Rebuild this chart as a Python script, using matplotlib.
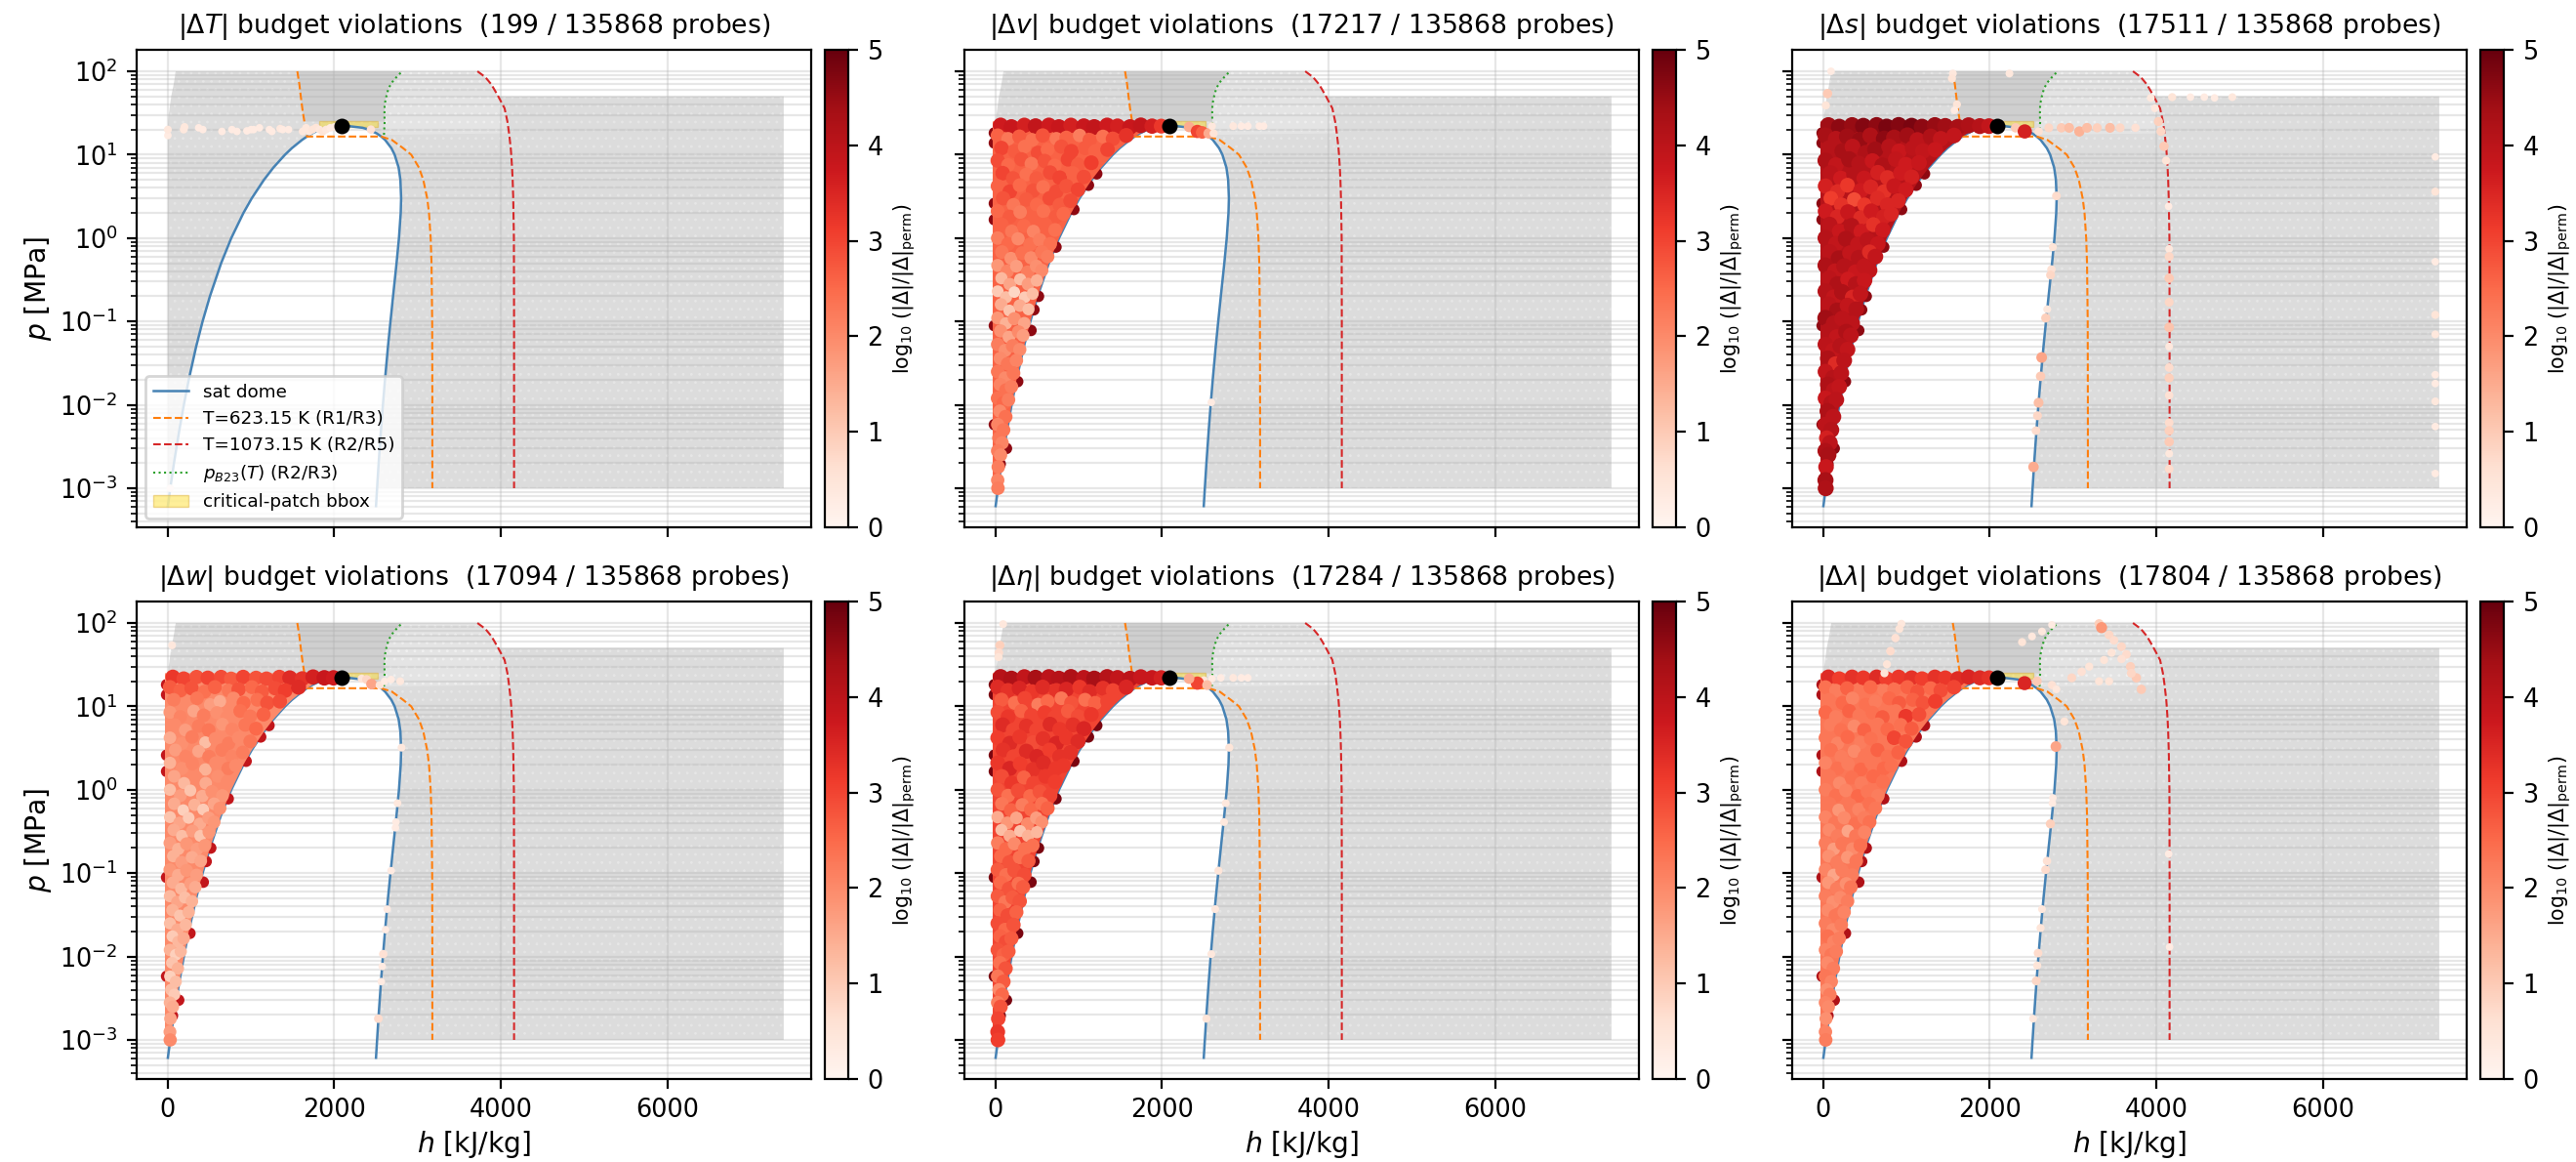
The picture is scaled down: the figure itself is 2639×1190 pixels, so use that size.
import numpy as np
import matplotlib
matplotlib.use("Agg")
import matplotlib.pyplot as plt
from matplotlib import ticker
from matplotlib.colors import Normalize
from matplotlib.cm import ScalarMappable

# saturation dome, p in MPa, h in kJ/kg
sat_p = [0.000611, 0.001, 0.002, 0.005, 0.01, 0.02, 0.05, 0.1, 0.2, 0.5, 1, 2, 3, 5, 7, 10, 12, 15, 16.5, 18, 20, 21, 22, 22.064]
sat_hl = [0, 29, 73, 138, 192, 251, 340, 417, 505, 640, 762, 908, 1008, 1155, 1268, 1408, 1491, 1611, 1671, 1732, 1827, 1890, 2011, 2087]
sat_hv = [2501, 2514, 2533, 2561, 2584, 2609, 2645, 2675, 2706, 2748, 2777, 2798, 2803, 2794, 2773, 2725, 2685, 2611, 2564, 2510, 2411, 2341, 2173, 2087]

t623_p = [100, 70, 50, 35, 25, 20, 16.5, 16.5, 15, 12, 10, 7, 5, 3, 2, 1, 0.5, 0.1, 0.01, 0.001]
t623_h = [1555, 1580, 1597, 1617, 1640, 1660, 1671, 2564, 2693, 2825, 2924, 3017, 3069, 3116, 3138, 3158, 3168, 3176, 3178, 3178]

t1073_p = [100, 85, 70, 60, 50, 36, 25, 18, 12, 10, 7, 5, 3, 1, 0.1, 0.01, 0.001]
t1073_h = [3720, 3815, 3885, 3925, 3970, 4046, 4080, 4100, 4120, 4126, 4136, 4143, 4150, 4158, 4160, 4160, 4160]

b23_p = [17.3, 20, 25, 30, 40, 50, 63, 75, 88, 100]
b23_h = [2597, 2600, 2605, 2602, 2605, 2625, 2653, 2700, 2760, 2817]

crit_h, crit_p = 2087.5, 22.064
patch_h = [1820, 2520]
patch_p = [21.5, 25.2]

# probe domain outline
field_left_p = [22.064, 30, 50, 70, 100]
field_left_h = [0, 10, 40, 70, 95]
field_right_p = [100, 50, 50, 0.001]
field_right_h = [3720, 3970, 7400, 7400]

# violation points in the liquid wedge, one row per pressure level
wedge_h = [
    [60, 190, 345, 480, 640, 760, 905, 1060, 1185, 1340, 1465, 1615, 1745, 1880, 1990],
    [25, 150, 285, 440, 565, 730, 850, 1010, 1130, 1290, 1410, 1570],
    [70, 230, 350, 510, 625, 790, 910, 1075, 1195, 1345],
    [25, 150, 310, 430, 590, 710, 870, 990, 1150],
    [85, 210, 370, 490, 655, 770, 930, 1060],
    [25, 170, 290, 450, 570, 730, 850, 990],
    [90, 215, 370, 495, 650, 770, 900],
    [25, 170, 295, 450, 575, 725, 815],
    [75, 195, 340, 455, 600, 715],
    [25, 150, 270, 415, 530, 655],
    [75, 185, 320, 425, 555, 625],
    [25, 140, 250, 385, 490, 555],
    [70, 170, 295, 390, 495],
    [25, 125, 225, 350, 445],
    [65, 165, 290, 395],
    [25, 125, 225, 345],
    [60, 160, 275, 330],
    [25, 115, 205, 290],
    [55, 145, 250],
    [25, 115, 215],
    [55, 125, 190],
    [25, 95, 155],
    [50, 120],
    [25, 95],
    [40, 78],
    [25, 60],
    [32],
    [25],
    [28],
]
wedge_p = [
    [22.5, 21.5, 22.5, 22, 22.5, 21.5, 22.5, 22, 21.5, 22.5, 22, 21.5, 22.5, 22, 22],
    [17, 15.5, 16.5, 15, 17, 15.5, 16, 17, 15, 16.5, 15.5, 17],
    [12, 11, 12.5, 10.5, 11.5, 12.5, 11, 12, 11, 11.5],
    [8.5, 7.5, 8.8, 7.8, 8.4, 7.4, 8.8, 7.6, 8],
    [6, 5.2, 5.8, 5.2, 6.1, 5.3, 6, 5.4],
    [4.2, 3.6, 4.3, 3.7, 4.1, 3.6, 4.2, 3.8],
    [3, 2.5, 2.9, 2.5, 3, 2.5, 2.8],
    [2.1, 1.8, 2.05, 1.75, 2.1, 1.8, 1.95],
    [1.45, 1.2, 1.4, 1.2, 1.45, 1.25],
    [1, 0.85, 0.98, 0.84, 0.95, 0.85],
    [0.68, 0.57, 0.66, 0.58, 0.68, 0.6],
    [0.47, 0.4, 0.46, 0.39, 0.46, 0.41],
    [0.33, 0.28, 0.32, 0.28, 0.31],
    [0.23, 0.195, 0.225, 0.195, 0.215],
    [0.16, 0.135, 0.155, 0.14],
    [0.11, 0.095, 0.108, 0.095],
    [0.077, 0.065, 0.075, 0.068],
    [0.053, 0.045, 0.051, 0.046],
    [0.036, 0.031, 0.034],
    [0.025, 0.021, 0.024],
    [0.0175, 0.015, 0.0165],
    [0.012, 0.0105, 0.0115],
    [0.0084, 0.0072],
    [0.0058, 0.005],
    [0.004, 0.0035],
    [0.0028, 0.0025],
    [0.0018],
    [0.00125],
    [0.001],
]

wedge_v = [
    [3.7, 3.8, 3.6, 3.9, 3.7, 3.8, 3.6, 3.8, 3.9, 3.7, 3.6, 3.8, 3.9, 3.6, 3.2],
    [2.6, 2.3, 2.7, 2.4, 2.8, 2.3, 2.6, 2.2, 2.7, 2.4, 2.9, 3.3],
    [3.0, 2.7, 2.4, 2.9, 2.5, 2.8, 3.0, 2.7, 2.6, 3.0],
    [2.9, 2.5, 2.8, 2.3, 2.8, 2.5, 3.0, 2.7, 3.1],
    [3.0, 2.8, 2.4, 2.7, 2.9, 3.0, 2.6, 2.9],
    [2.6, 3.0, 2.5, 2.8, 2.4, 2.9, 2.8, 3.0],
    [2.8, 2.3, 2.7, 2.5, 2.9, 2.7, 2.9],
    [2.5, 2.7, 2.2, 2.6, 2.4, 2.7, 2.5],
    [2.6, 2.3, 2.5, 2.1, 2.6, 2.4],
    [2.2, 2.5, 2.0, 2.4, 2.2, 2.4],
    [2.3, 1.9, 2.4, 2.0, 2.3, 2.2],
    [1.8, 2.1, 1.7, 2.2, 1.9, 2.0],
    [1.3, 1.6, 1.2, 1.7, 1.4],
    [1.0, 1.2, 0.8, 1.0, 1.2],
    [1.5, 1.1, 1.5, 1.2],
    [1.8, 1.4, 1.9, 1.6],
    [1.9, 1.6, 2.0, 1.7],
    [2.2, 1.9, 2.2, 2.0],
    [2.0, 2.3, 2.1],
    [2.3, 2.0, 2.3],
    [2.1, 2.4, 2.2],
    [2.4, 2.5, 2.2],
    [2.0, 2.4],
    [2.1, 2.3],
    [2.3, 2.1],
    [2.2, 2.0],
    [2.2],
    [2.1],
    [2.2],
]

wedge_s = [
    [4.4, 4.6, 4.5, 4.7, 4.6, 4.8, 4.7, 4.8, 4.6, 4.5, 4.4, 4.3, 4.2, 4.1, 3.9],
    [4.3, 4.1, 4.4, 4.5, 4.2, 4.6, 4.3, 4.4, 4.0, 4.2, 3.9, 3.9],
    [4.1, 4.3, 4.0, 4.2, 4.4, 4.1, 3.8, 4.0, 3.9, 3.8],
    [4.2, 3.9, 4.3, 4.1, 3.8, 4.2, 3.9, 3.7, 3.8],
    [4.0, 3.7, 4.1, 3.8, 3.6, 3.4, 3.7, 3.6],
    [3.6, 3.4, 3.2, 3.7, 3.5, 3.3, 3.8, 3.7],
    [3.1, 3.3, 2.9, 3.2, 3.4, 3.5, 3.5],
    [3.7, 3.5, 3.8, 3.4, 3.7, 3.6, 3.5],
    [4.0, 3.8, 4.1, 3.7, 3.3, 3.7],
    [4.1, 3.9, 4.2, 3.9, 4.0, 3.8],
    [4.0, 4.3, 3.9, 4.1, 3.4, 3.9],
    [4.2, 3.9, 4.1, 3.8, 3.9, 3.9],
    [4.0, 4.2, 3.7, 4.1, 3.8],
    [4.1, 3.9, 4.2, 3.5, 3.9],
    [4.0, 4.3, 3.9, 4.1],
    [4.4, 4.1, 4.0, 4.0],
    [4.1, 3.9, 4.2, 4.0],
    [4.0, 3.9, 4.1, 3.9],
    [4.2, 3.4, 4.0],
    [3.9, 4.1, 4.0],
    [4.2, 4.0, 3.9],
    [3.8, 4.1, 4.0],
    [4.2, 4.0],
    [4.0, 4.1],
    [3.6, 4.0],
    [4.2, 4.3],
    [3.8],
    [4.3],
    [4.2],
]

wedge_w = [
    [3.2, 3.0, 2.8, 3.0, 2.9, 2.7, 3.0, 2.8, 2.9, 3.0, 3.4, 3.3, 3.6, 3.8, 3.7],
    [2.7, 2.6, 2.8, 2.4, 2.6, 2.3, 2.8, 2.5, 2.7, 2.9, 3.1, 3.4],
    [2.2, 2.0, 2.3, 1.7, 1.5, 2.0, 2.5, 2.4, 2.8, 2.9],
    [1.8, 2.1, 1.6, 2.2, 1.9, 2.0, 2.4, 2.3, 2.6],
    [2.0, 1.7, 2.2, 2.3, 1.8, 2.1, 2.3, 2.5],
    [1.5, 1.9, 2.2, 1.2, 2.0, 2.2, 2.0, 2.3],
    [1.7, 2.1, 1.6, 2.2, 2.2, 2.1, 2.2],
    [1.4, 1.9, 2.1, 1.4, 2.0, 2.2, 2.0],
    [1.6, 1.3, 2.0, 1.5, 1.9, 2.0],
    [1.2, 1.7, 1.1, 1.5, 1.9, 1.8],
    [1.5, 0.9, 1.4, 1.0, 1.6, 1.9],
    [1.1, 1.6, 1.0, 1.5, 1.7, 1.8],
    [1.5, 1.2, 1.7, 1.1, 1.8],
    [1.7, 1.4, 1.8, 1.7, 1.8],
    [1.4, 1.7, 1.5, 1.6],
    [1.8, 1.5, 1.8, 1.7],
    [1.5, 1.3, 1.7, 1.5],
    [1.3, 1.6, 1.2, 1.4],
    [1.4, 1.1, 1.4],
    [1.2, 1.5, 1.3],
    [1.0, 1.3, 1.5],
    [1.4, 0.9, 1.3],
    [1.1, 1.4],
    [0.9, 1.2],
    [1.2, 1.0],
    [1.4, 1.5],
    [1.6],
    [1.7],
    [2.0],
]

wedge_eta = [
    [4.1, 4.2, 3.9, 4.3, 4.0, 4.1, 4.2, 4.0, 4.3, 4.1, 3.9, 4.0, 3.8, 3.8, 3.6],
    [3.4, 3.3, 3.5, 3.2, 3.4, 3.3, 3.5, 3.2, 3.4, 3.3, 3.0, 3.5],
    [2.7, 2.4, 3.0, 2.2, 2.5, 2.3, 2.8, 2.4, 2.6, 3.0],
    [2.9, 3.2, 2.6, 3.0, 3.1, 3.0, 2.7, 2.9, 3.2],
    [3.4, 3.0, 3.3, 3.0, 3.4, 3.2, 3.3, 3.5],
    [3.1, 3.4, 3.2, 2.9, 3.3, 3.5, 3.2, 3.4],
    [3.3, 3.0, 3.4, 3.5, 3.1, 3.3, 3.3],
    [3.2, 3.5, 3.1, 3.3, 3.4, 3.2, 3.2],
    [2.9, 3.2, 2.6, 3.0, 3.2, 3.1],
    [2.8, 2.4, 2.9, 2.5, 2.8, 3.0],
    [2.3, 2.6, 2.2, 2.5, 2.4, 2.6],
    [1.5, 1.8, 1.6, 2.0, 1.7, 1.9],
    [1.2, 1.5, 1.1, 1.4, 1.3],
    [2.2, 2.5, 2.0, 2.4, 2.4],
    [2.5, 2.8, 2.4, 2.7],
    [2.7, 2.4, 2.8, 2.9],
    [2.5, 2.8, 2.4, 2.7],
    [2.7, 2.3, 2.7, 2.8],
    [2.6, 2.9, 2.6],
    [2.9, 2.5, 2.8],
    [2.6, 2.9, 2.7],
    [2.8, 2.6, 2.7],
    [2.4, 2.8],
    [2.3, 2.7],
    [2.0, 2.5],
    [2.2, 2.8],
    [3.0],
    [3.2],
    [3.1],
]

wedge_lam = [
    [3.4, 3.1, 3.3, 3.2, 3.4, 3.1, 3.2, 3.3, 3.1, 3.3, 3.2, 3.4, 3.5, 3.4, 3.3],
    [2.4, 2.2, 2.6, 2.3, 2.5, 2.2, 2.4, 2.6, 2.8, 2.5, 2.9, 3.0],
    [2.3, 2.5, 2.1, 2.4, 2.2, 2.5, 2.7, 2.6, 2.8, 3.1],
    [2.5, 2.2, 2.6, 2.3, 2.4, 2.7, 2.3, 3.2, 2.9],
    [2.2, 2.4, 2.0, 2.6, 2.3, 2.5, 2.4, 2.7],
    [2.3, 2.1, 2.5, 2.2, 2.4, 2.3, 3.0, 2.8],
    [2.4, 2.2, 2.0, 2.3, 2.6, 2.4, 2.6],
    [2.1, 2.4, 2.2, 2.5, 2.3, 2.5, 2.4],
    [2.3, 2.0, 2.4, 2.2, 2.5, 2.4],
    [2.2, 2.4, 2.1, 2.5, 2.3, 2.2],
    [2.3, 1.8, 2.3, 2.1, 2.4, 2.3],
    [2.1, 2.3, 2.0, 2.4, 2.2, 2.4],
    [2.0, 2.2, 1.6, 2.3, 2.1],
    [2.2, 1.7, 2.3, 2.0, 2.4],
    [1.9, 2.2, 1.8, 2.3],
    [2.1, 1.6, 2.2, 2.2],
    [1.8, 2.2, 1.9, 2.3],
    [2.2, 1.9, 2.0, 2.2],
    [2.0, 2.3, 2.1],
    [2.2, 2.0, 2.2],
    [2.4, 2.1, 2.2],
    [2.1, 2.3, 2.2],
    [2.0, 2.2],
    [2.3, 2.1],
    [1.9, 2.2],
    [2.1, 2.0],
    [1.9],
    [2.1],
    [2.2],
]

# dark crescents along the wedge border, shared by the panels
rim_h = [-15, -15, -15, -15, -15, -15, 1215, 1115, 940, 725, 515, 460, 425, 265, 130, 55]
rim_p = [18.2, 13.8, 2.6, 1.66, 0.089, 0.0058, 5.9, 4.3, 2.2, 0.78, 0.2, 0.138, 0.078, 0.019, 0.003, 0.00195]

# scattered violations outside the wedge
extra_T_h = [0, 0, 190, 200, 370, 420, 650, 770, 830, 950, 1000, 1030, 1100, 1220, 1250, 1350, 1380, 1450, 1620, 1660, 1700, 1740, 1780, 1820, 1860, 1900, 1950, 2000, 2440, 28]
extra_T_p = [17, 20, 20, 21.5, 21, 20, 19, 20, 19, 19.3, 20, 20, 21, 20, 19, 20.5, 20, 20, 19, 21, 19, 20, 21, 20, 19, 20, 21, 21.5, 20, 0.001]
extra_T_val = [0.3, 0.4, 0.4, 0.4, 0.3, 0.3, 0.3, 0.3, 0.3, 0.3, 0.3, 0.3, 0.3, 0.3, 0.3, 0.4, 0.3, 0.3, 0.4, 0.4, 0.4, 0.5, 0.5, 0.4, 0.5, 0.4, 0.3, 0.3, 0.6, 0.3]

extra_v_h = [2855, 2953, 3031, 3169, 3220, 2325, 2424, 2482, 2560, 2600, 2620, 2592]
extra_v_p = [22, 22, 22, 22, 22, 21.5, 19, 18.5, 18, 22, 18, 0.0107]
extra_v_val = [0.4, 0.3, 0.3, 0.3, 0.3, 1.5, 3.0, 2.6, 1.5, 0.4, 0.5, 0.3]

extra_s_h = [92, 50, 30, 1556, 1545, 1605, 1575, 2236, 3934, 4191, 4411, 4577, 4700, 4914, 3983, 4026, 4056, 4093, 4118, 4148,
             4155, 4155, 4155, 4155, 4155, 4155, 4155, 4155, 4155, 4155, 4155, 4155, 4155, 4155,
             2800, 2757, 2740, 2730, 2690, 2672, 2623, 2610, 2586, 2573, 2555, 2525,
             7353, 7353, 7353, 7353, 7353, 7353, 7353, 7353, 7353, 7353,
             2310, 2420, 2586, 2708, 2860, 2953, 3076, 3168, 3290, 3444, 3566, 3750]
extra_s_p = [100, 54, 39, 94, 82, 40, 34, 94, 48, 49, 49, 49, 48, 49, 36, 25, 19, 12.6, 8.5, 2.4,
             0.74, 0.6, 0.33, 0.17, 0.085, 0.05, 0.028, 0.021, 0.013, 0.0061, 0.0049, 0.0036, 0.0026, 0.0017,
             3.2, 0.78, 0.42, 0.36, 0.14, 0.11, 0.037, 0.022, 0.0106, 0.0074, 0.0049, 0.0018,
             9.4, 3.6, 0.52, 0.12, 0.07, 0.023, 0.018, 0.011, 0.0055, 0.0015,
             21, 19, 19, 21, 21, 21, 19, 21, 21, 21, 21, 21]
extra_s_val = [0.3, 1.0, 0.5, 0.4, 0.5, 0.5, 0.3, 0.4, 0.4, 0.5, 0.3, 0.3, 0.3, 0.4, 0.4, 0.9, 0.8, 1.0, 0.5, 0.3,
               0.4, 0.8, 1.0, 0.8, 1.1, 0.4, 0.7, 0.9, 0.6, 0.7, 0.9, 1.0, 0.4, 0.7,
               0.7, 0.5, 0.6, 0.8, 0.4, 0.9, 1.6, 1.0, 1.2, 0.8, 0.7, 1.5,
               0.3, 0.5, 0.3, 0.5, 0.4, 0.3, 0.3, 0.4, 0.3, 0.3,
               1.0, 3.6, 0.6, 0.8, 1.0, 1.2, 1.4, 1.2, 0.9, 1.2, 0.8, 0.6]

extra_w_h = [51, 2808, 2760, 2741, 2735, 2682, 2635, 2616, 2588, 2576, 2565, 2529, 2329, 2388, 2447, 2545, 2604, 2682, 2792]
extra_w_p = [54, 3.2, 0.69, 0.41, 0.35, 0.107, 0.037, 0.021, 0.0107, 0.0076, 0.005, 0.0018, 21.5, 21, 18.5, 18, 20, 21, 20]
extra_w_val = [0.4, 0.4, 0.4, 0.3, 0.3, 0.3, 0.3, 0.3, 0.6, 0.3, 0.3, 0.7, 0.5, 0.8, 1.6, 0.5, 0.3, 0.3, 0.4]

extra_eta_h = [90, 51, 39, 35, 2808, 2765, 2745, 2678, 2639, 2592, 2533, 2855, 2953, 3031, 2706, 2600, 2502, 2424, 2325, 2541]
extra_eta_p = [97, 54, 44, 39, 3.2, 0.69, 0.41, 0.107, 0.037, 0.0107, 0.0018, 22, 22, 22, 22, 21.5, 20.5, 19, 21.5, 18]
extra_eta_val = [0.4, 0.9, 0.7, 0.5, 0.5, 0.4, 0.4, 0.5, 0.4, 0.4, 0.5, 0.4, 0.3, 0.3, 0.3, 0.3, 0.5, 3.0, 1.5, 1.2]

extra_lam_h = [937, 913, 866, 806, 764, 734, 2746, 2627, 2507, 2388, 3313, 3343, 3433, 3492, 3582, 3642, 3690, 3761, 3821, 3373, 3463, 3582, 3700,
               2418, 2567, 2746, 2800, 2985, 3104, 3194, 3313, 3433, 2896,
               2794, 2758, 2752, 2728, 2687, 2670, 2627, 2610, 2580, 2570, 2558, 2520, 4149, 4160]
extra_lam_p = [98, 85, 66, 46, 32, 25, 95, 79, 69, 59, 98, 88, 72, 62, 52, 42, 30, 22, 16, 36, 44, 37, 25,
               19, 20, 18, 16, 22, 26, 30, 20, 20, 6.6,
               3.3, 0.8, 0.69, 0.39, 0.14, 0.11, 0.037, 0.022, 0.011, 0.0078, 0.0051, 0.0018, 0.17, 0.013]
extra_lam_val = [0.4, 0.5, 0.6, 0.7, 0.5, 0.5, 0.3, 0.4, 0.4, 0.5, 0.9, 1.8, 0.8, 0.7, 0.8, 0.7, 0.9, 1.0, 1.0, 0.5, 0.5, 0.6, 0.8,
                 3.5, 1.0, 0.6, 0.4, 0.8, 0.6, 0.5, 0.5, 0.5, 0.5,
                 1.6, 0.3, 0.3, 0.9, 0.6, 0.7, 0.4, 0.5, 0.7, 0.5, 0.8, 0.4, 0.3, 0.3]

panel_titles = [
    r"$|\Delta T|$ budget violations  (199 / 135868 probes)",
    r"$|\Delta v|$ budget violations  (17217 / 135868 probes)",
    r"$|\Delta s|$ budget violations  (17511 / 135868 probes)",
    r"$|\Delta w|$ budget violations  (17094 / 135868 probes)",
    r"$|\Delta \eta|$ budget violations  (17284 / 135868 probes)",
    r"$|\Delta \lambda|$ budget violations  (17804 / 135868 probes)",
]
panel_wedge = [None, wedge_v, wedge_s, wedge_w, wedge_eta, wedge_lam]
panel_base = [None, 2.6, 4.1, 2.0, 3.0, 2.3]
panel_rim = [None, 4.6, 4.6, 3.9, 4.8, 4.2]
panel_extra = [
    (extra_T_h, extra_T_p, extra_T_val),
    (extra_v_h, extra_v_p, extra_v_val),
    (extra_s_h, extra_s_p, extra_s_val),
    (extra_w_h, extra_w_p, extra_w_val),
    (extra_eta_h, extra_eta_p, extra_eta_val),
    (extra_lam_h, extra_lam_p, extra_lam_val),
]

W, H = 2639, 1190
lefts = [140, 988, 1836]
tops = [51, 616]
ax_w, ax_h = 691, 489
cb_gap, cb_w = 14, 24

cmap = plt.get_cmap("Reds")
norm = Normalize(0, 5)

plt.rcParams["hatch.linewidth"] = 0.4
fig = plt.figure(figsize=(W / 200, H / 200), dpi=200)

for i in range(6):
    x0 = lefts[i % 3]
    y0 = tops[i // 3]
    ax = fig.add_axes([x0 / W, 1 - (y0 + ax_h) / H, ax_w / W, ax_h / H])
    ax.set_yscale("log")

    # probe field
    hl_top = [h for h, p in zip(sat_hl, sat_p) if p >= 0.001]
    pl_top = [p for p in sat_p if p >= 0.001]
    hv_top = [h for h, p in zip(sat_hv, sat_p) if p >= 0.001]
    outline_h = [0] + field_left_h + field_right_h + hv_top + hl_top[::-1]
    outline_p = [0.001] + field_left_p + field_right_p + pl_top + pl_top[::-1]
    ax.fill(outline_h, outline_p, facecolor="#dcdcdc", edgecolor="#e6e6e6", hatch="....", lw=0, zorder=1)
    # denser sampled parts of the field
    ax.fill(t623_h[:5] + b23_h[2:], t623_p[:5] + b23_p[2:], color="#cfcfcf", lw=0, zorder=1.1)
    ax.fill(b23_h + t1073_h[:8], b23_p + t1073_p[:8], facecolor="#e4e4e4", edgecolor="#f0f0f0", hatch="....", lw=0, zorder=1.1)

    ax.axhspan(patch_p[0], patch_p[1], xmin=(patch_h[0] + 375) / 8105, xmax=(patch_h[1] + 375) / 8105,
               facecolor="gold", edgecolor="goldenrod", alpha=0.4, lw=0.5, zorder=1.8, label="critical-patch bbox")

    dome_h = sat_hl + sat_hv[::-1]
    dome_p = sat_p + sat_p[::-1]
    ax.plot(dome_h, dome_p, color="steelblue", lw=0.9, zorder=2, label="sat dome")
    ax.plot(t623_h, t623_p, color="tab:orange", ls="--", lw=0.75, zorder=2, label="T=623.15 K (R1/R3)")
    ax.plot(t1073_h, t1073_p, color="tab:red", ls="--", lw=0.75, zorder=2, label="T=1073.15 K (R2/R5)")
    ax.plot(b23_h, b23_p, color="tab:green", ls=":", lw=0.75, zorder=2, label=r"$p_{B23}(T)$ (R2/R3)")

    # violations
    if panel_wedge[i] is not None:
        ax.fill([-35] + hl_top + [1990, -35], [0.001] + pl_top + [25, 25], color=cmap(norm(panel_base[i])), lw=0, zorder=2.9)
        ax.scatter(rim_h, rim_p, c=[panel_rim[i]] * len(rim_h), cmap=cmap, norm=norm, s=18, lw=0, zorder=2.8)
        px, py, pv = [], [], []
        for hs, ps, vals in zip(wedge_h, wedge_p, panel_wedge[i]):
            px.extend(hs)
            py.extend(ps)
            pv.extend(vals)
        pv = np.array(pv)
        ax.scatter(px, py, c=pv, cmap=cmap, norm=norm, s=14 + 5 * pv, lw=0, zorder=3)
    ex_h, ex_p, ex_v = panel_extra[i]
    ex_v = np.array(ex_v)
    ax.scatter(ex_h, ex_p, c=ex_v, cmap=cmap, norm=norm, s=6 + 6 * ex_v, lw=0, zorder=3.1)

    ax.scatter([crit_h], [crit_p], color="black", s=33, lw=0, zorder=6)

    ax.set_xlim(-375, 7730)
    ax.set_ylim(3.4e-4, 181)
    ax.set_xticks([0, 2000, 4000, 6000])
    ax.yaxis.set_major_locator(ticker.LogLocator(base=10, numticks=12))
    ax.yaxis.set_minor_locator(ticker.LogLocator(base=10, subs=np.arange(2, 10), numticks=12))
    ax.yaxis.set_minor_formatter(ticker.NullFormatter())
    ax.grid(True, which="both", color="#b0b0b0", alpha=0.3, lw=0.8)
    ax.tick_params(labelsize=9.2)
    ax.set_title(panel_titles[i], fontsize=9.6, pad=6)
    if i >= 3:
        ax.set_xlabel(r"$h$ [kJ/kg]", fontsize=10.2, labelpad=2)
    else:
        ax.tick_params(labelbottom=False)
    if i % 3 == 0:
        ax.set_ylabel(r"$p$ [MPa]", fontsize=10.2, labelpad=2)
    else:
        ax.tick_params(labelleft=False)

    if i == 0:
        handles, labels = ax.get_legend_handles_labels()
        order = [labels.index(s) for s in ["sat dome", "T=623.15 K (R1/R3)", "T=1073.15 K (R2/R5)", r"$p_{B23}(T)$ (R2/R3)", "critical-patch bbox"]]
        ax.legend([handles[k] for k in order], [labels[k] for k in order], loc="lower left", fontsize=6.6)

    cax = fig.add_axes([(x0 + ax_w + cb_gap) / W, 1 - (y0 + ax_h) / H, cb_w / W, ax_h / H])
    cb = fig.colorbar(ScalarMappable(norm=norm, cmap=cmap), cax=cax)
    cb.set_ticks([0, 1, 2, 3, 4, 5])
    cb.ax.tick_params(labelsize=9.2)
    cb.set_label(r"$\log_{10}\,(|\Delta|/|\Delta|_{\rm perm})$", fontsize=7.4, labelpad=3)

fig.savefig("out.png", dpi=200)
